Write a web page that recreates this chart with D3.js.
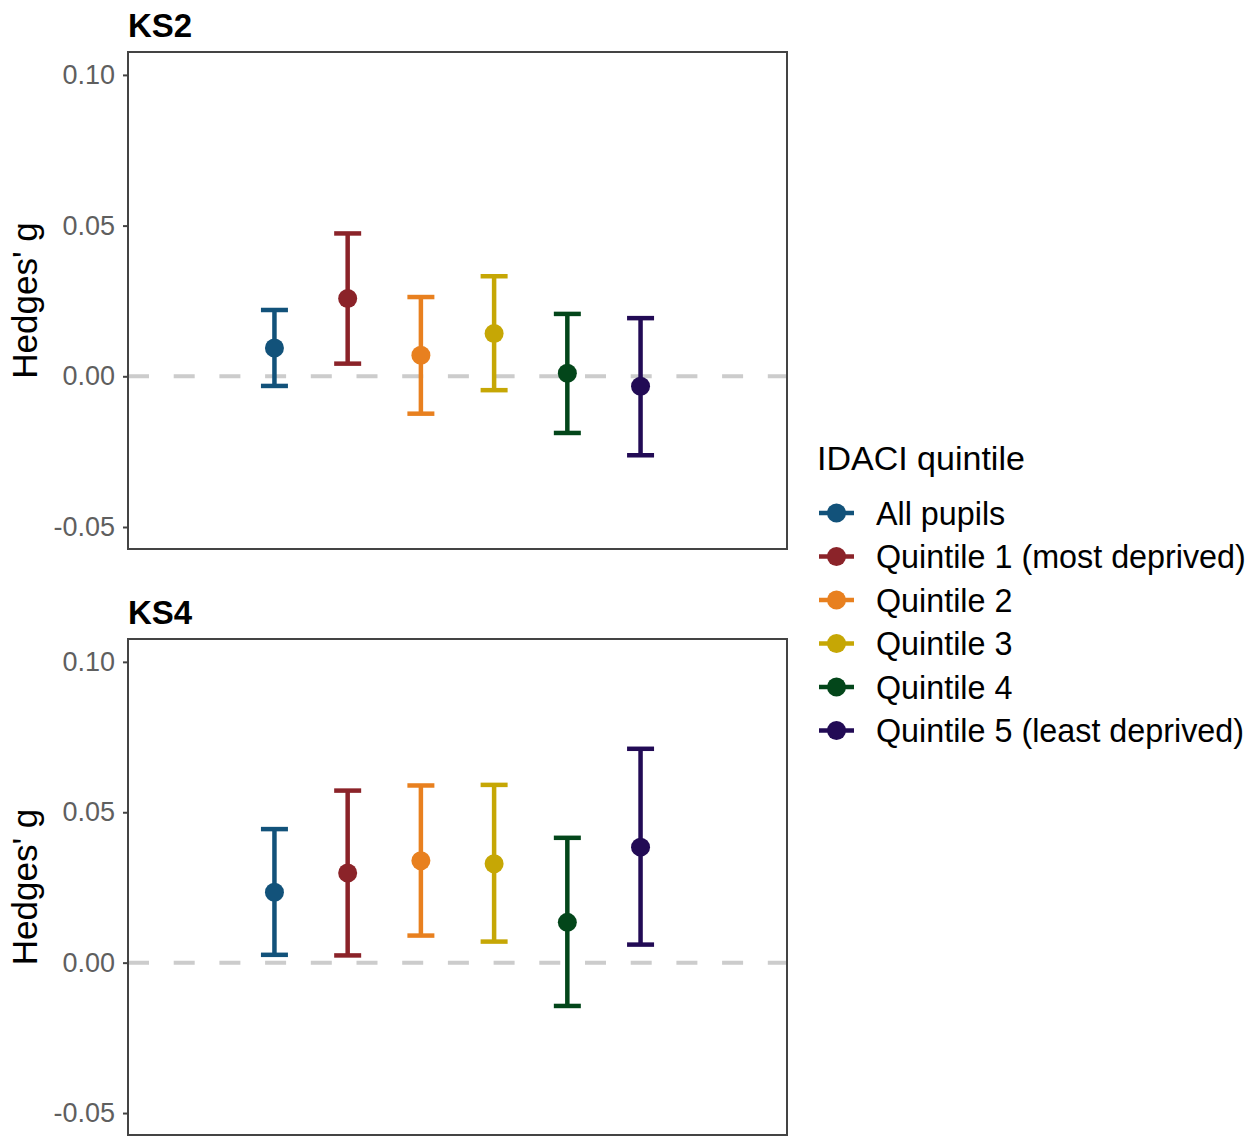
<!DOCTYPE html>
<html>
<head>
<meta charset="utf-8">
<script src="https://cdn.jsdelivr.net/npm/d3@7"></script>
<style>
  html, body { margin: 0; padding: 0; background: #fff; }
  svg { display: block; font-family: "Liberation Sans", Arial, sans-serif; }
</style>
</head>
<body>
<svg id="chart" width="1260" height="1137"></svg>
<script>
// Groups (IDACI quintiles) and their colours
const groups = ["All pupils", "Quintile 1 (most deprived)", "Quintile 2", "Quintile 3", "Quintile 4", "Quintile 5 (least deprived)"];
const colors = ["#12527a", "#8b2329", "#e8801f", "#c6a705", "#03461a", "#220b55"];

// Effect sizes (Hedges' g) with 95% confidence limits
const ks2Estimate = [0.0094, 0.0258, 0.0070, 0.0142, 0.0010, -0.0033];
const ks2Lower    = [-0.0032, 0.0042, -0.0124, -0.0046, -0.0188, -0.0262];
const ks2Upper    = [0.0220, 0.0474, 0.0263, 0.0332, 0.0207, 0.0193];

const ks4Estimate = [0.0234, 0.0298, 0.0339, 0.0329, 0.0134, 0.0384];
const ks4Lower    = [0.0026, 0.0024, 0.0090, 0.0070, -0.0144, 0.0060];
const ks4Upper    = [0.0444, 0.0572, 0.0589, 0.0591, 0.0415, 0.0711];

const yTicks = [-0.05, 0.00, 0.05, 0.10];
const yDomain = [-0.0573, 0.1076];

const panels = [
  { title: "KS2", est: ks2Estimate, lo: ks2Lower, hi: ks2Upper, top: 52, bottom: 549 },
  { title: "KS4", est: ks4Estimate, lo: ks4Lower, hi: ks4Upper, top: 639, bottom: 1135 }
];

const svg = d3.select("#chart");
const left = 128, right = 787;
const x = d3.scaleLinear().domain([-2, 7]).range([left, right]);
const fmt = d3.format(".2f");

panels.forEach(p => {
  const y = d3.scaleLinear().domain(yDomain).range([p.bottom, p.top]);
  const g = svg.append("g");

  // zero reference line
  g.append("line")
    .attr("x1", left).attr("x2", right)
    .attr("y1", y(0)).attr("y2", y(0))
    .attr("stroke", "#cccccc").attr("stroke-width", 4)
    .attr("stroke-dasharray", "21,24.7");

  // y axis
  const axis = g.append("g")
    .attr("transform", `translate(${left},0)`)
    .call(d3.axisLeft(y).tickValues(yTicks).tickSize(5).tickPadding(8));
  axis.select(".domain").remove();
  axis.selectAll(".tick line").attr("stroke", "#444").attr("stroke-width", 2);
  axis.selectAll(".tick text")
    .attr("fill", "#5f5f5f")
    .style("font-size", "27px")
    .style("font-family", "'Liberation Sans', Arial, sans-serif")
    .text(d => d < 0 ? "-" + fmt(-d) : fmt(d));

  // error bars
  const rows = groups.map((name, i) => ({ i, name, est: p.est[i], lo: p.lo[i], hi: p.hi[i], color: colors[i] }));
  const bars = g.selectAll(".eb").data(rows).enter().append("g");
  const capHalf = 13.5;
  bars.append("line")
    .attr("x1", d => x(d.i)).attr("x2", d => x(d.i))
    .attr("y1", d => y(d.lo)).attr("y2", d => y(d.hi))
    .attr("stroke", d => d.color).attr("stroke-width", 4.5);
  bars.append("line")
    .attr("x1", d => x(d.i) - capHalf).attr("x2", d => x(d.i) + capHalf)
    .attr("y1", d => y(d.hi)).attr("y2", d => y(d.hi))
    .attr("stroke", d => d.color).attr("stroke-width", 4.5);
  bars.append("line")
    .attr("x1", d => x(d.i) - capHalf).attr("x2", d => x(d.i) + capHalf)
    .attr("y1", d => y(d.lo)).attr("y2", d => y(d.lo))
    .attr("stroke", d => d.color).attr("stroke-width", 4.5);
  bars.append("circle")
    .attr("cx", d => x(d.i)).attr("cy", d => y(d.est))
    .attr("r", 9.5).attr("fill", d => d.color);

  // panel border
  g.append("rect")
    .attr("x", left).attr("y", p.top)
    .attr("width", right - left).attr("height", p.bottom - p.top)
    .attr("fill", "none").attr("stroke", "#444").attr("stroke-width", 2);

  // panel title
  g.append("text")
    .attr("x", left).attr("y", p.top - 15)
    .attr("font-size", 33).attr("font-weight", "bold").attr("fill", "#000")
    .text(p.title);

  // y axis title
  g.append("text")
    .attr("transform", `translate(37,${(p.top + p.bottom) / 2}) rotate(-90)`)
    .attr("text-anchor", "middle")
    .attr("font-size", 35).attr("fill", "#000")
    .text("Hedges' g");
});

// legend
const legend = svg.append("g").attr("transform", "translate(817,0)");
legend.append("text")
  .attr("x", 0).attr("y", 470)
  .attr("font-size", 34).attr("fill", "#000")
  .text("IDACI quintile");
const item = legend.selectAll(".item").data(groups).enter().append("g")
  .attr("transform", (d, i) => `translate(0,${513 + i * 43.5})`);
item.append("line")
  .attr("x1", 2).attr("x2", 37).attr("y1", 0).attr("y2", 0)
  .attr("stroke", (d, i) => colors[i]).attr("stroke-width", 4.5);
item.append("circle")
  .attr("cx", 19.5).attr("cy", 0).attr("r", 9.5)
  .attr("fill", (d, i) => colors[i]);
item.append("text")
  .attr("x", 59).attr("y", 11.5)
  .attr("font-size", 32.3).attr("fill", "#000")
  .text(d => d);
</script>
</body>
</html>
